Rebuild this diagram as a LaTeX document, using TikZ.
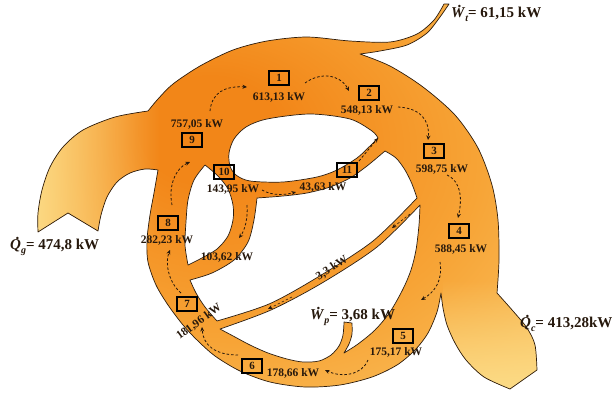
\documentclass[tikz,border=0pt]{standalone}
\usepackage{fontspec}
\setmainfont{Liberation Serif}
\usetikzlibrary{arrows.meta,fadings}
\definecolor{ordark}{RGB}{242,134,24}
\definecolor{ormid}{RGB}{247,164,54}
\definecolor{orlight}{RGB}{250,204,110}
\definecolor{orpale}{RGB}{252,220,135}
\definecolor{edgec}{RGB}{45,28,12}
\definecolor{textc}{RGB}{38,24,12}
\pgfdeclareradialshading{ringshade}{\pgfpoint{-9bp}{10bp}}{%
  color(0bp)=(ordark); color(7bp)=(ordark); color(24bp)=(ormid); color(42bp)=(orlight); color(50bp)=(orlight)}
\tikzfading[name=opaqueleft, left color=transparent!0, right color=transparent!100]
\tikzfading[name=opaquebottom, bottom color=transparent!0, top color=transparent!100]
\newcommand\sbs[1]{\raisebox{-0.3em}{\fontsize{10}{10}\selectfont\itshape #1}}
\newcommand\dotacc[2]{\rlap{\kern#1\raisebox{0.62em}{.}}#2}
\newcommand\outerpath{(38,232)
 -- plot[smooth] coordinates {(38,232) (38,213) (42,190) (50,167) (63,147) (83,130) (115,117) (148,111)}
 -- plot[smooth] coordinates {(148,111) (158,99) (173,84) (200,66) (233,50) (267,41) (307,37) (350,41) (390,42) (417,34) (434,20) (444,4)}
 -- (449,4)
 -- plot[smooth] coordinates {(449,4) (440,17) (427,33) (407,45) (380,51) (360,54)}
 -- plot[smooth] coordinates {(360,54) (390,66) (423,87) (455,115) (478,148) (492,185) (498,220) (499,260) (497,293)}
 -- plot[smooth] coordinates {(497,293) (513,311) (527,328) (535,345) (537,370)}
 -- (510,389)
 -- plot[smooth] coordinates {(510,389) (484,377) (466,360) (455,343) (447,325) (443,308) (441,293)}
 -- plot[smooth] coordinates {(441,293) (437,312) (428,333) (415,350) (397,365) (372,377) (340,385) (305,387) (270,382) (240,371) (215,356) (197,340) (183,325) (168,305) (156,285) (148,262) (147,240) (150,215) (154,193) (158,170)}
 -- plot[smooth] coordinates {(158,170) (145,169) (130,173) (117,182) (107,197) (101,215) (98,231)}
 -- (68,213) -- cycle}
\tikzset{
  edgeline/.style={draw=edgec, line width=0.7pt, line join=round},
  numbox/.style={draw=black, line width=1.1pt, minimum width=20pt, minimum height=14pt, inner sep=0pt,
    font=\fontsize{11}{11}\selectfont\bfseries, text=textc},
  val/.style={font=\fontsize{11.5}{12}\selectfont\bfseries, text=textc, inner sep=0pt},
  big/.style={font=\fontsize{15}{16}\selectfont\bfseries, text=textc, inner sep=0pt, anchor=base west},
  flow/.style={draw=textc, line width=0.8pt, dash pattern=on 2.5pt off 2pt, -{Stealth[length=4.5pt,width=4pt]}},
}
\begin{document}
\begin{tikzpicture}[x=1pt, y={(0pt,-1pt)}]
\useasboundingbox (0,0) rectangle (614,394);
% ---------- outer contour ----------
\shade[shading=ringshade] \outerpath;
\begin{scope}
  \clip \outerpath;
  \fill[orpale, path fading=opaqueleft] (30,95) rectangle (160,240);
  \fill[orpale, path fading=opaquebottom] (443,280) rectangle (545,392);
\end{scope}
\draw[edgeline] \outerpath;
% ---------- holes ----------
% (d) above the 10-11 band
\filldraw[fill=white, edgeline]
 (378,138) -- plot[smooth] coordinates {(378,138) (370,146) (357,158) (337,170) (317,177) (283,182) (250,181) (236,175) (230,166) (229,153) (234,139) (246,127) (267,119) (310,114) (350,119) (372,131) (378,138)} -- cycle;
% (c) left of the 103,62 branch
\filldraw[fill=white, edgeline]
 (205,165) -- plot[smooth] coordinates {(205,165) (218,176) (228,189) (233,205) (233,220) (228,236) (217,249) (200,259) (188,265)}
 -- plot[smooth] coordinates {(188,265) (185,245) (186,222) (188,200) (194,180) (205,165)} -- cycle;
% (b) middle
\filldraw[fill=white, edgeline]
 (257,198) -- plot[smooth] coordinates {(257,198) (283,196) (307,193) (330,187) (350,178) (367,166) (385,151)}
 -- plot[smooth] coordinates {(385,151) (396,158) (405,170) (412,184) (417,198)}
 -- plot[smooth] coordinates {(417,198) (373,241) (318,277) (269,304) (217,321)}
 -- plot[smooth] coordinates {(217,321) (205,307) (196,293) (190,280)}
 -- plot[smooth] coordinates {(190,280) (212,273) (234,260) (248,242) (254,220) (257,198)} -- cycle;
% (a) bottom, with the W_p inflow
\filldraw[fill=white, edgeline]
 (220,329) -- plot[smooth] coordinates {(220,329) (271,310) (322,283) (377,247) (420,205)}
 -- plot[smooth] coordinates {(420,205) (419,225) (416,250) (411,270) (403,289) (390,312) (375,330) (358,344) (344,353)}
 -- plot[smooth] coordinates {(344,353) (349,344) (352,334) (352,323)}
 -- (344,322)
 -- plot[smooth] coordinates {(344,322) (343,335) (339,346) (331,355) (319,361) (303,362) (287,359) (268,353) (250,345) (235,337) (220,329)} -- cycle;
% ---------- state boxes ----------
\node[numbox] (b1) at (279,78) {1};
\node[numbox] (b2) at (369,93) {2};
\node[numbox] (b3) at (434,151) {3};
\node[numbox] (b4) at (459,231) {4};
\node[numbox] (b5) at (403,336) {5};
\node[numbox] (b6) at (252,366) {6};
\node[numbox] (b7) at (187,304) {7};
\node[numbox] (b8) at (168,223) {8};
\node[numbox] (b9) at (192,140) {9};
\node[numbox] (b10) at (224,172) {10};
\node[numbox] (b11) at (347,170) {11};
% ---------- values ----------
\node[val] (v1) at (279,97) {613,13 kW};
\node[val] (v2) at (367,110) {548,13 kW};
\node[val] (v3) at (442,169) {598,75 kW};
\node[val] (v4) at (461,249) {588,45 kW};
\node[val] (v5) at (396,352) {175,17 kW};
\node[val] (v6) at (293,373) {178,66 kW};
\node[val, rotate=36] (v7) at (199,322) {181,96 kW};
\node[val] (v8) at (167,240) {282,23 kW};
\node[val] (v9) at (197,124) {757,05 kW};
\node[val] (v10) at (233,189) {143,95 kW};
\node[val] (v11) at (323,187) {43,63 kW};
\node[val] (v12) at (227,257) {103,62 kW};
\node[val, rotate=33] (v13) at (332,268) {3,3 kW};
% ---------- heat and work labels ----------
\node[big] (Wt) at (451,17) {\dotacc{0.42em}{\textit{W}}\sbs{t}= 61,15 kW};
\node[big] (Qg) at (10,249) {\dotacc{0.36em}{\textit{Q}}\sbs{g}= 474,8 kW};
\node[big] (Qc) at (520,327) {\dotacc{0.36em}{\textit{Q}}\sbs{c}= 413,28kW};
\node[big] (Wp) at (310,319) {\dotacc{0.42em}{\textit{W}}\sbs{p}= 3,68 kW};
% ---------- flow arrows ----------
\coordinate (f1s) at (210,111); \coordinate (f1e) at (247,87);
\coordinate (f2s) at (305,83);  \coordinate (f2e) at (349,91);
\coordinate (f3s) at (398,107); \coordinate (f3e) at (428,140);
\coordinate (f4s) at (447,175); \coordinate (f4e) at (458,218);
\coordinate (f5s) at (440,262); \coordinate (f5e) at (421,300);
\coordinate (f6s) at (368,360); \coordinate (f6e) at (325,370);
\coordinate (f7s) at (238,355); \coordinate (f7e) at (202,327);
\coordinate (f8s) at (181,293); \coordinate (f8e) at (170,250);
\coordinate (f9s) at (172,205); \coordinate (f9e) at (190,162);
\coordinate (f10s) at (262,190); \coordinate (f10e) at (296,192);
\coordinate (f11s) at (359,161); \coordinate (f11e) at (378,138);
\coordinate (f12s) at (247,205); \coordinate (f12e) at (239,238);
\coordinate (f13s) at (410,214); \coordinate (f13e) at (392,228);
\coordinate (f14s) at (292,297); \coordinate (f14e) at (268,309);
\draw[flow] (f1s) .. controls (212,92) and (225,86) .. (f1e);
\draw[flow] (f2s) .. controls (320,72) and (340,74) .. (f2e);
\draw[flow] (f3s) .. controls (420,108) and (430,120) .. (f3e);
\draw[flow] (f4s) .. controls (462,182) and (462,200) .. (f4e);
\draw[flow] (f5s) .. controls (443,280) and (435,292) .. (f5e);
\draw[flow] (f6s) .. controls (362,375) and (342,378) .. (f6e);
\draw[flow] (f7s) .. controls (215,355) and (203,345) .. (f7e);
\draw[flow] (f8s) .. controls (168,282) and (165,262) .. (f8e);
\draw[flow] (f9s) .. controls (168,185) and (176,168) .. (f9e);
\draw[flow] (f10s) .. controls (272,196) and (285,195) .. (f10e);
\draw[flow] (f11s) -- (f11e);
\draw[flow] (f12s) .. controls (248,218) and (245,230) .. (f12e);
\draw[flow, line width=0.6pt] (f13s) -- (f13e);
\draw[flow, line width=0.6pt] (f14s) -- (f14e);
\end{tikzpicture}
\end{document}
